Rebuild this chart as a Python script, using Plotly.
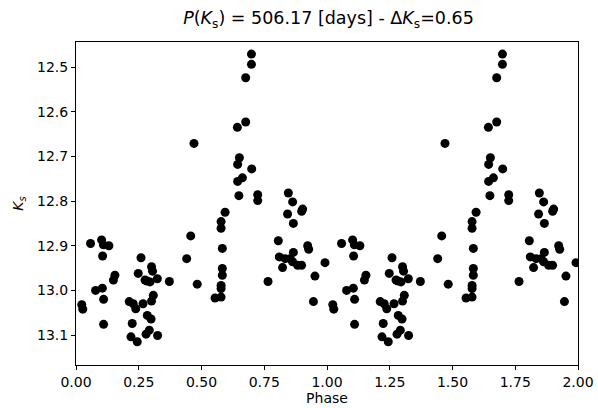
import plotly.graph_objects as go

# Folded light curve (one cycle), repeated over phase 1-2
phase = [0.023, 0.027, 0.058, 0.102, 0.109, 0.131, 0.106, 0.078, 0.105, 0.110,
         0.110, 0.149, 0.155, 0.259, 0.248, 0.275, 0.295, 0.301, 0.305, 0.324,
         0.372, 0.212, 0.228, 0.238, 0.267, 0.301, 0.308, 0.284, 0.299, 0.224,
         0.219, 0.244, 0.279, 0.292, 0.325, 0.283, 0.441, 0.457, 0.483, 0.470,
         0.554, 0.578, 0.578, 0.578, 0.583, 0.583, 0.583, 0.578, 0.578, 0.594,
         0.649, 0.644, 0.663, 0.644, 0.651, 0.700, 0.643, 0.676, 0.676, 0.699,
         0.699, 0.724, 0.724, 0.765, 0.806, 0.846, 0.863, 0.843, 0.903, 0.899,
         0.866, 0.923, 0.927, 0.810, 0.833, 0.853, 0.866, 0.863, 0.823, 0.883,
         0.899, 0.952, 0.992, 0.946]
ks = [13.032, 13.042, 12.895, 12.887, 12.898, 12.900, 12.923, 13.000, 12.995, 13.020,
      13.076, 12.977, 12.966, 12.927, 12.962, 12.977, 12.981, 12.947, 12.957, 12.974,
      12.980, 13.025, 13.030, 13.041, 13.030, 13.024, 13.011, 13.056, 13.064, 13.074,
      13.104, 13.115, 13.098, 13.089, 13.101, 12.979, 12.929, 12.878, 12.986, 12.671,
      13.017, 13.015, 12.996, 12.989, 12.966, 12.951, 12.906, 12.861, 12.846, 12.825,
      12.788, 12.756, 12.748, 12.718, 12.703, 12.728, 12.635, 12.623, 12.524, 12.494,
      12.471, 12.786, 12.799, 12.980, 12.889, 12.782, 12.802, 12.829, 12.818, 12.823,
      12.850, 12.900, 12.908, 12.925, 12.929, 12.929, 12.915, 12.936, 12.949, 12.944,
      12.944, 12.968, 12.938, 13.025]

x_all = phase + [p + 1 for p in phase]
y_all = ks + ks

xticks = [0.0, 0.25, 0.5, 0.75, 1.0, 1.25, 1.5, 1.75, 2.0]
yticks = [12.5, 12.6, 12.7, 12.8, 12.9, 13.0, 13.1]

fig = go.Figure(go.Scatter(
    x=x_all, y=y_all, mode="markers",
    marker=dict(color="black", size=9, line=dict(width=0)),
))

f14 = dict(family="DejaVu Sans", size=14, color="black")
fig.update_layout(
    width=598, height=408,
    margin=dict(l=76, r=20, t=42, b=43, autoexpand=False),
    paper_bgcolor="white", plot_bgcolor="white",
    font=f14, showlegend=False,
    title=dict(
        text="<i>P</i>(<i>K</i><sub>s</sub>) = 506.17 [days] - Δ<i>K</i><sub>s</sub>=0.65",
        xref="paper", x=0.503, xanchor="center",
        yref="container", y=0.955, yanchor="middle",
        font=dict(family="DejaVu Sans", size=17.5, color="black"),
    ),
)
fig.update_xaxes(
    range=[0, 2], tickvals=xticks, ticktext=[f"{v:.2f}" for v in xticks],
    ticks="outside", ticklen=4, tickcolor="black", tickfont=f14,
    showline=True, linecolor="black", linewidth=1, mirror=True,
    showgrid=False, zeroline=False, automargin=False,
    title=dict(text="Phase", standoff=4, font=f14),
)
fig.update_yaxes(
    range=[13.167, 12.444], tickvals=yticks, ticktext=[f"{v:.1f}" for v in yticks],
    ticks="outside", ticklen=4, tickcolor="black", tickfont=f14,
    showline=True, linecolor="black", linewidth=1, mirror=True,
    showgrid=False, zeroline=False, automargin=False,
    title=dict(text="<i>K<sub>s</sub></i>", standoff=10, font=f14),
)

fig.write_html("out.html")
